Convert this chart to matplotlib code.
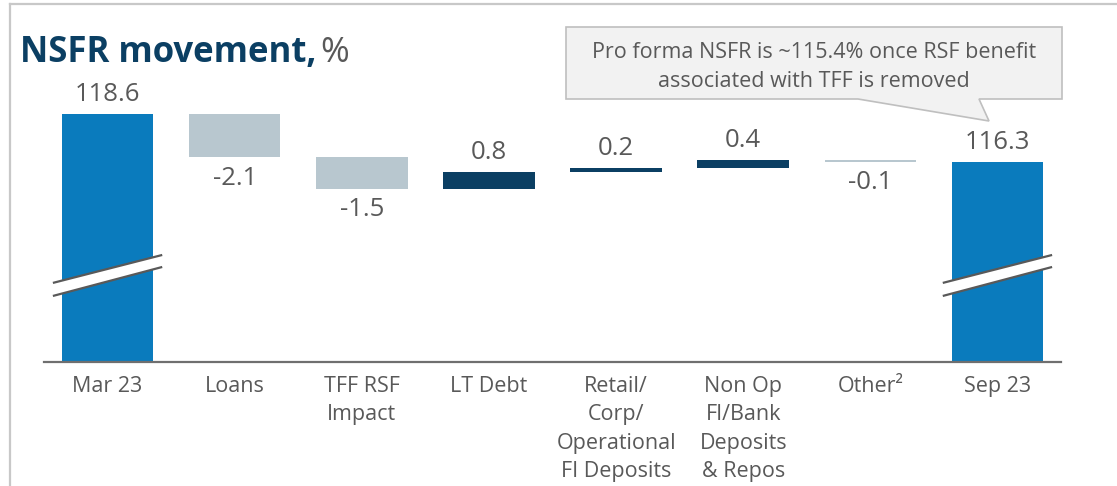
import matplotlib.pyplot as plt
from matplotlib.patches import Polygon
import numpy as np

plt.rcParams['font.family'] = ['Open Sans', 'DejaVu Sans']

categories = ["Mar 23", "Loans", "TFF RSF\nImpact", "LT Debt",
              "Retail/\nCorp/\nOperational\nFI Deposits",
              "Non Op\nFI/Bank\nDeposits\n& Repos",
              "Other²", "Sep 23"]
start_value = 118.6
deltas = [-2.1, -1.5, 0.8, 0.2, 0.4, -0.1]
end_value = 116.3
value_labels = ["118.6", "-2.1", "-1.5", "0.8", "0.2", "0.4", "-0.1", "116.3"]

TOTAL_C = "#0a7bbd"
NEG_C = "#b8c7cf"
POS_C = "#0b3f63"
TEXT_C = "#595959"
TITLE_C = "#0b3f63"

W, H = 1117, 486
fig = plt.figure(figsize=(W / 100, H / 100), dpi=100)


def fx(x):
    return x / W


def fy(y):
    return 1 - y / H


# frame lines (top and left)
fig.add_artist(plt.Line2D([fx(10), 1], [fy(4), fy(4)], color="#c8c8c8", lw=1.6))
fig.add_artist(plt.Line2D([fx(10), fx(10)], [fy(4), 0], color="#c8c8c8", lw=1.6))

base = 106.62
ax = fig.add_axes([fx(44), fy(362), fx(1061) - fx(44), (362 - 85) / H])
ax.set_xlim(-0.5, 7.5)
ax.set_ylim(base, 120)

x = np.arange(len(categories))
width = 0.72

# totals
ax.bar(x[0], start_value - base, bottom=base, width=width, color=TOTAL_C)
ax.bar(x[-1], end_value - base, bottom=base, width=width, color=TOTAL_C)

running = start_value
tops, bottoms = [start_value], [base]
for i, d in enumerate(deltas):
    lo = running + min(d, 0)
    ax.bar(x[i + 1], abs(d), bottom=lo, width=width,
           color=POS_C if d > 0 else NEG_C)
    tops.append(lo + abs(d))
    bottoms.append(lo)
    running += d
tops.append(end_value)
bottoms.append(base)

# value labels
for i, lab in enumerate(value_labels):
    if lab.startswith("-"):
        ax.annotate(lab, (x[i], bottoms[i]), xytext=(0, -6), textcoords="offset points",
                    ha="center", va="top", fontsize=18.5, color=TEXT_C)
    else:
        ax.annotate(lab, (x[i], tops[i]), xytext=(0, 5), textcoords="offset points",
                    ha="center", va="bottom", fontsize=18.5, color=TEXT_C)

# axis break marks on total bars
for xi in (x[0], x[-1]):
    xl, xr = xi - 0.43, xi + 0.43
    up = [(xl, base + 3.82), (xr, base + 5.17)]
    lo = [(xl, base + 3.19), (xr, base + 4.59)]
    ax.add_patch(Polygon([up[0], up[1], lo[1], lo[0]], closed=True,
                         facecolor="white", edgecolor="none", zorder=3))
    for seg in (up, lo):
        ax.plot([seg[0][0], seg[1][0]], [seg[0][1], seg[1][1]],
                color="#595959", lw=1.6, zorder=4, solid_capstyle="butt")

for s in ("top", "right", "left"):
    ax.spines[s].set_visible(False)
ax.spines["bottom"].set_color("#6f6f6f")
ax.spines["bottom"].set_linewidth(1.6)
ax.set_yticks([])
ax.set_xticks(x)
ax.set_xticklabels(categories, fontsize=15.5, color=TEXT_C, linespacing=1.46)
ax.tick_params(axis="x", length=0, pad=10)

# title
t1 = fig.text(fx(20), fy(62), "NSFR movement,", fontsize=25, fontweight="bold",
              color=TITLE_C, ha="left", va="baseline")
fig.canvas.draw()
bb = t1.get_window_extent()
fig.text(bb.x1 / W + fx(4), fy(62), "%", fontsize=25, color=TEXT_C,
         ha="left", va="baseline")

# callout
callout = [(566, 27), (1062, 27), (1062, 99), (979, 99), (989, 121), (858, 99), (566, 99)]
fig.add_artist(Polygon([(fx(a), fy(b)) for a, b in callout], closed=True,
                       facecolor="#f2f2f2", edgecolor="#bfbfbf", lw=1.2,
                       transform=fig.transFigure))
fig.text(fx(814), fy(67), "Pro forma NSFR is ~115.4% once RSF benefit\nassociated with TFF is removed",
         ha="center", va="center", fontsize=15.5, color=TEXT_C, linespacing=1.45)

fig.savefig("out.png", dpi=100)
